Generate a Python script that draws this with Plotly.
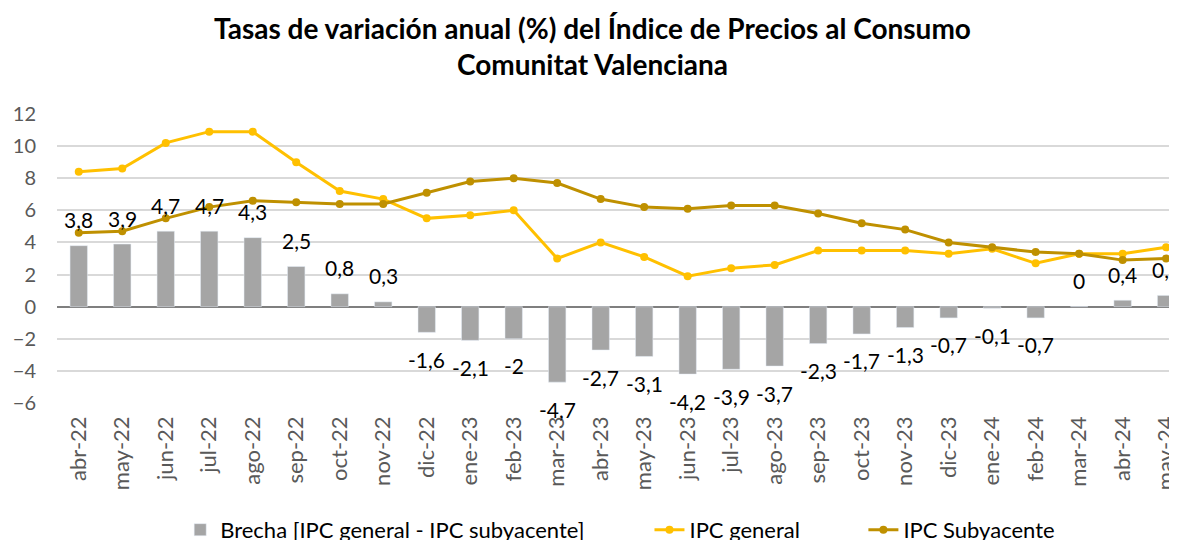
import plotly.graph_objects as go

categories = ["abr-22","may-22","jun-22","jul-22","ago-22","sep-22","oct-22","nov-22","dic-22",
              "ene-23","feb-23","mar-23","abr-23","may-23","jun-23","jul-23","ago-23","sep-23",
              "oct-23","nov-23","dic-23","ene-24","feb-24","mar-24","abr-24","may-24"]
brecha = [3.8, 3.9, 4.7, 4.7, 4.3, 2.5, 0.8, 0.3, -1.6, -2.1, -2, -4.7, -2.7, -3.1, -4.2,
          -3.9, -3.7, -2.3, -1.7, -1.3, -0.7, -0.1, -0.7, 0, 0.4, 0.7]
ipc_general = [8.4, 8.6, 10.2, 10.9, 10.9, 9.0, 7.2, 6.7, 5.5, 5.7, 6.0, 3.0, 4.0, 3.1, 1.9,
               2.4, 2.6, 3.5, 3.5, 3.5, 3.3, 3.6, 2.7, 3.3, 3.3, 3.7]
ipc_subyacente = [4.6, 4.7, 5.5, 6.2, 6.6, 6.5, 6.4, 6.4, 7.1, 7.8, 8.0, 7.7, 6.7, 6.2, 6.1,
                  6.3, 6.3, 5.8, 5.2, 4.8, 4.0, 3.7, 3.4, 3.3, 2.9, 3.0]
y_ticks = [-6, -4, -2, 0, 2, 4, 6, 8, 10, 12]

FONT = "Lato"
x = list(range(len(categories)))

fig = go.Figure()
fig.add_trace(go.Bar(x=x, y=brecha, name="Brecha [IPC general - IPC subyacente]",
                     marker_color="#A5A5A5", width=0.4, legend="legend"))
fig.add_trace(go.Scatter(x=x, y=ipc_general, name="IPC general", mode="lines+markers",
                         line=dict(color="#FFC000", width=3), marker=dict(size=8, color="#FFC000"),
                         legend="legend2"))
fig.add_trace(go.Scatter(x=x, y=ipc_subyacente, name="IPC Subyacente", mode="lines+markers",
                         line=dict(color="#BF9000", width=3), marker=dict(size=8, color="#BF9000"),
                         legend="legend3"))

def fmt(v):
    return ("%g" % v).replace(".", ",")

for i, v in enumerate(brecha):
    fig.add_annotation(x=i, y=v, text=fmt(v), showarrow=False,
                       yshift=26 if v >= 0 else -27,
                       font=dict(family=FONT, size=21, color="#000000"))

leg_font = dict(family=FONT, size=22, color="#000000")
fig.update_layout(
    width=1169, height=540,
    margin=dict(l=49, r=0, t=106, b=145, autoexpand=False),
    paper_bgcolor="white", plot_bgcolor="white",
    title=dict(text="<b>Tasas de variación anual (%) del Índice de Precios al Consumo<br>Comunitat Valenciana</b>",
               x=0.5, xanchor="center", yref="container", y=1 - 30.5 / 540, yanchor="middle",
               font=dict(family=FONT, size=28, color="#000000")),
    xaxis=dict(tickmode="array", tickvals=x, ticktext=categories, tickangle=-90,
               range=[-0.5, 25.25], showgrid=False, showline=False, ticks="",
               ticklabelstandoff=8, ticklabeloverflow="allow",
               tickfont=dict(family=FONT, size=22, color="#595959")),
    yaxis=dict(range=[-6, 12], tickvals=y_ticks, showgrid=True, gridcolor="#D9D9D9", gridwidth=1.5,
               zeroline=True, zerolinecolor="#7F7F7F", zerolinewidth=2, showline=False,
               ticklabelstandoff=20,
               tickfont=dict(family=FONT, size=20, color="#595959")),
    showlegend=True,
    legend=dict(orientation="h", x=0.110, xanchor="left", y=-0.439, yanchor="middle",
                font=leg_font, bgcolor="rgba(0,0,0,0)"),
    legend2=dict(orientation="h", x=0.529, xanchor="left", y=-0.439, yanchor="middle",
                 font=leg_font, bgcolor="rgba(0,0,0,0)"),
    legend3=dict(orientation="h", x=0.720, xanchor="left", y=-0.439, yanchor="middle",
                 font=leg_font, bgcolor="rgba(0,0,0,0)"),
)

fig.write_html("out.html")
